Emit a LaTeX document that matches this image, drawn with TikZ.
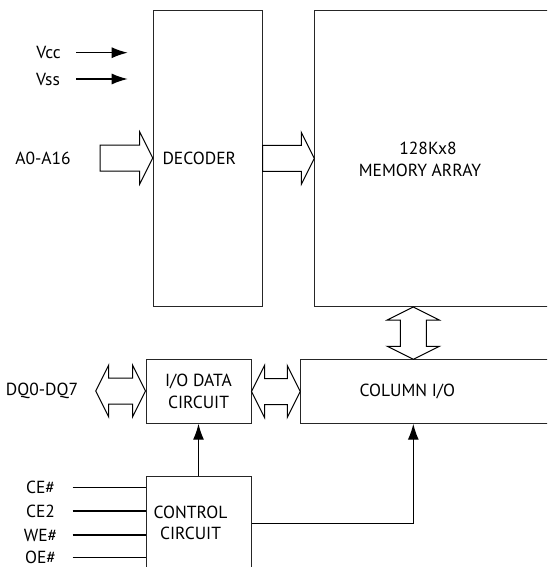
\documentclass[tikz,border=0pt]{standalone}
\usepackage{fontspec}
\setmainfont{PT Sans}
\usetikzlibrary{arrows.meta,calc}
\begin{document}
\begin{tikzpicture}[x=1pt, y=-1pt, >={Latex[length=16pt,width=11pt]},
    box/.style={draw=black!85, line width=1pt, inner sep=0pt, anchor=north west,
        font=\fontsize{17.5}{21.5}\selectfont, align=center},
    lbl/.style={inner sep=0pt, font=\fontsize{17.5}{21.5}\selectfont, align=center},
    bus/.style={draw, line width=1pt, fill=white, line join=miter},
    sig/.style={line width=1.3pt}]
    % --- SETTINGS ---
    \def\sh{13pt}  % bus shaft half width
    \def\hw{26pt}  % bus head half width
    \def\hl{13pt}  % bus head length

    % hollow bus arrows: right, left-right, up-down
    \def\busR#1#2{\draw[bus] let \p1=(#1), \p2=(#2) in
        (\x1,\y1+\sh) -- (\x2-\hl,\y1+\sh) -- (\x2-\hl,\y1+\hw) -- (\x2,\y1)
        -- (\x2-\hl,\y1-\hw) -- (\x2-\hl,\y1-\sh) -- (\x1,\y1-\sh) -- cycle;}
    \def\busLR#1#2{\draw[bus] let \p1=(#1), \p2=(#2) in
        (\x1,\y1) -- (\x1+\hl,\y1+\hw) -- (\x1+\hl,\y1+\sh) -- (\x2-\hl,\y1+\sh)
        -- (\x2-\hl,\y1+\hw) -- (\x2,\y1) -- (\x2-\hl,\y1-\hw) -- (\x2-\hl,\y1-\sh)
        -- (\x1+\hl,\y1-\sh) -- (\x1+\hl,\y1-\hw) -- cycle;}
    \def\busUD#1#2{\draw[bus] let \p1=(#1), \p2=(#2) in
        (\x1,\y1) -- (\x1-\hw,\y1-\hl) -- (\x1-\sh,\y1-\hl) -- (\x1-\sh,\y2+\hl)
        -- (\x1-\hw,\y2+\hl) -- (\x1,\y2) -- (\x1+\hw,\y2+\hl) -- (\x1+\sh,\y2+\hl)
        -- (\x1+\sh,\y1-\hl) -- (\x1+\hw,\y1-\hl) -- cycle;}

    \useasboundingbox (0,0) rectangle (547,567);
    \clip (0,0) rectangle (547,567);

    % --- BLOCKS ---
    \node[box, minimum width=109pt, minimum height=296.3pt] (dec) at (152.7,9.7) {};
    \node[box, minimum width=260pt, minimum height=296.3pt] (mem) at (314.3,9.7) {};
    \node[box, minimum width=105pt, minimum height=63.4pt] (io) at (145.5,359.3) {I/O DATA\\CIRCUIT};
    \node[box, minimum width=280pt, minimum height=63.4pt] (col) at (300.3,359.3) {};
    \node[box, minimum width=105pt, minimum height=94pt] (ctrl) at (145.5,476) {};

    % block texts
    \node[lbl] (dectxt) at (199.3,158) {DECODER};
    \node[lbl] (memtxt) at (420,159.5) {\hspace*{16pt}128Kx8\\MEMORY ARRAY};
    \node[lbl] (coltxt) at (407.3,391) {COLUMN I/O};
    \node[lbl] (ctrltxt) at (190.5,523) {CONTROL\\CIRCUIT};

    % --- SUPPLY ---
    \node[lbl] (vcc) at (48.5,52.7) {Vcc};
    \node[lbl] (vss) at (48,79) {Vss};
    \coordinate (vcctip) at (127.7,52.7);
    \coordinate (vsstip) at (127.7,79);
    \draw[sig,->] (vcc.center) ++(27.5,0) -- (vcctip);
    \draw[sig,->] (vss.center) ++(28,0) -- (vsstip);

    % --- BUSES ---
    \node[lbl] (addr) at (43,158.5) {A0-A16};
    \node[lbl] (dq) at (42,391) {DQ0-DQ7};
    \coordinate (addrin) at (100,158);
    \coordinate (dqin) at (95.7,391);
    \coordinate (bus) at (413.3,0);
    \busR{addrin}{dec.west}
    \busR{dec.east}{mem.west |- dec.east}
    \busLR{dqin}{io.west}
    \busLR{io.east}{col.west}
    \busUD{mem.south -| bus}{col.north -| bus}

    % --- CONTROL ---
    \draw[sig,->] (ctrl.north) -- (io.south);
    \draw[sig,->] (ctrl.east) -| (col.south -| bus);
    \foreach \y/\t/\n in {487.7/CE\#/ce, 511/CE2/cetwo, 535/WE\#/we, 557.5/OE\#/oe} {
        \node[lbl] (\n) at (40.5,\y) {\t};
        \draw[sig] (\n.center) ++(32,0) -- (ctrl.west |- \n.center);
    }
\end{tikzpicture}
\end{document}
